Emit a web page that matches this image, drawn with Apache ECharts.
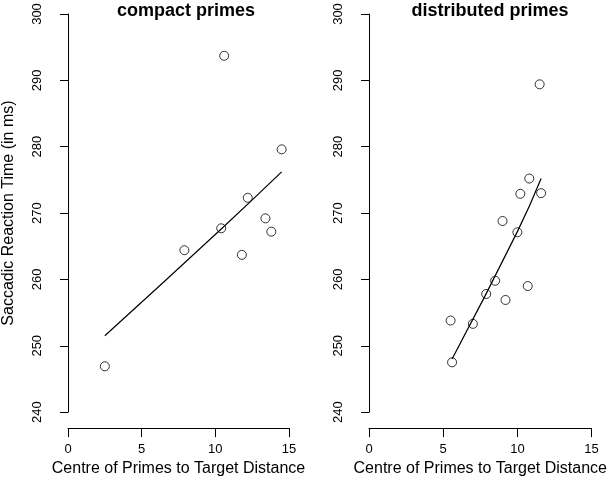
<!DOCTYPE html>
<html>
<head>
<meta charset="utf-8">
<style>
    html, body { margin: 0; padding: 0; background: #fff; }
    #chart { width: 610px; height: 482px; }
</style>
<script src="https://cdn.jsdelivr.net/npm/echarts@6/dist/echarts.min.js"></script>
</head>
<body>
<div id="chart"></div>
<script>
    // compact primes: distance vs reaction time
    const compactX = [2.5, 7.9, 10.4, 10.6, 11.8, 12.2, 13.4, 13.8, 14.5];
    const compactY = [246.9, 264.4, 267.7, 293.7, 263.7, 272.3, 269.2, 267.2, 279.6];
    const compactFitX = [2.5, 10.4, 14.5];
    const compactFitY = [251.5, 267.6, 276.2];

    // distributed primes
    const distX = [5.5, 5.6, 7.0, 7.9, 8.5, 9.0, 9.2, 10.0, 10.2, 10.7, 10.8, 11.5, 11.6];
    const distY = [253.8, 247.5, 253.3, 257.8, 259.8, 268.8, 256.9, 267.1, 272.9, 259.0, 275.2, 289.4, 273.0];
    const distFitX = [5.6, 10.0, 11.6];
    const distFitY = [248.0, 267.2, 275.2];

    const titles = ['compact primes', 'distributed primes'];
    const xName = 'Centre of Primes to Target Distance';
    const yName = 'Saccadic Reaction Time (in ms)';

    const font = 'Liberation Sans, Arial, sans-serif';

    function pairs(xs, ys) {
        return xs.map((x, i) => [x, ys[i]]);
    }

    function xAxisFor(idx) {
        return {
            gridIndex: idx,
            type: 'value',
            min: 0, max: 15, interval: 5,
            offset: 16,
            name: xName,
            nameLocation: 'middle',
            nameGap: 23,
            nameTextStyle: { fontFamily: font, fontSize: 16, color: '#000' },
            axisLine: { show: true, lineStyle: { color: '#000', width: 1 } },
            axisTick: { show: true, length: 9, lineStyle: { color: '#000' } },
            axisLabel: { fontFamily: font, fontSize: 13, color: '#000', margin: 15 },
            splitLine: { show: false }
        };
    }

    function yAxisFor(idx) {
        return {
            gridIndex: idx,
            type: 'value',
            min: 240, max: 300, interval: 10,
            offset: 11,
            name: idx === 0 ? yName : '',
            nameLocation: 'middle',
            nameGap: 40,
            nameTextStyle: { fontFamily: font, fontSize: 16, color: '#000' },
            axisLine: { show: true, lineStyle: { color: '#000', width: 1 } },
            axisTick: { show: true, length: 8, lineStyle: { color: '#000' } },
            axisLabel: { fontFamily: font, fontSize: 13, color: '#000', rotate: 90, margin: 13 },
            splitLine: { show: false }
        };
    }

    const pointStyle = {
        color: 'transparent',
        borderColor: '#000',
        borderWidth: 1
    };

    const chart = echarts.init(document.getElementById('chart'));
    chart.setOption({
        animation: false,
        backgroundColor: '#fff',
        title: [{
            text: titles[0],
            left: 186, top: 2, padding: 0,
            textAlign: 'center',
            textStyle: { fontFamily: font, fontSize: 18, fontWeight: 'bold', color: '#000' }
        }, {
            text: titles[1],
            left: 490, top: 2, padding: 0,
            textAlign: 'center',
            textStyle: { fontFamily: font, fontSize: 18, fontWeight: 'bold', color: '#000' }
        }],
        grid: [
            { left: 65, top: 14, width: 224, height: 399 },
            { left: 369, top: 14, width: 223, height: 399 }
        ],
        xAxis: [xAxisFor(0), xAxisFor(1)],
        yAxis: [yAxisFor(0), yAxisFor(1)],
        series: [{
            type: 'scatter',
            xAxisIndex: 0, yAxisIndex: 0,
            symbol: 'circle', symbolSize: 9,
            itemStyle: pointStyle,
            data: pairs(compactX, compactY)
        }, {
            type: 'line',
            xAxisIndex: 0, yAxisIndex: 0,
            showSymbol: false,
            smooth: true,
            lineStyle: { color: '#000', width: 1.2 },
            data: pairs(compactFitX, compactFitY)
        }, {
            type: 'scatter',
            xAxisIndex: 1, yAxisIndex: 1,
            symbol: 'circle', symbolSize: 9,
            itemStyle: pointStyle,
            data: pairs(distX, distY)
        }, {
            type: 'line',
            xAxisIndex: 1, yAxisIndex: 1,
            showSymbol: false,
            smooth: true,
            lineStyle: { color: '#000', width: 1.2 },
            data: pairs(distFitX, distFitY)
        }]
    });
</script>
</body>
</html>
